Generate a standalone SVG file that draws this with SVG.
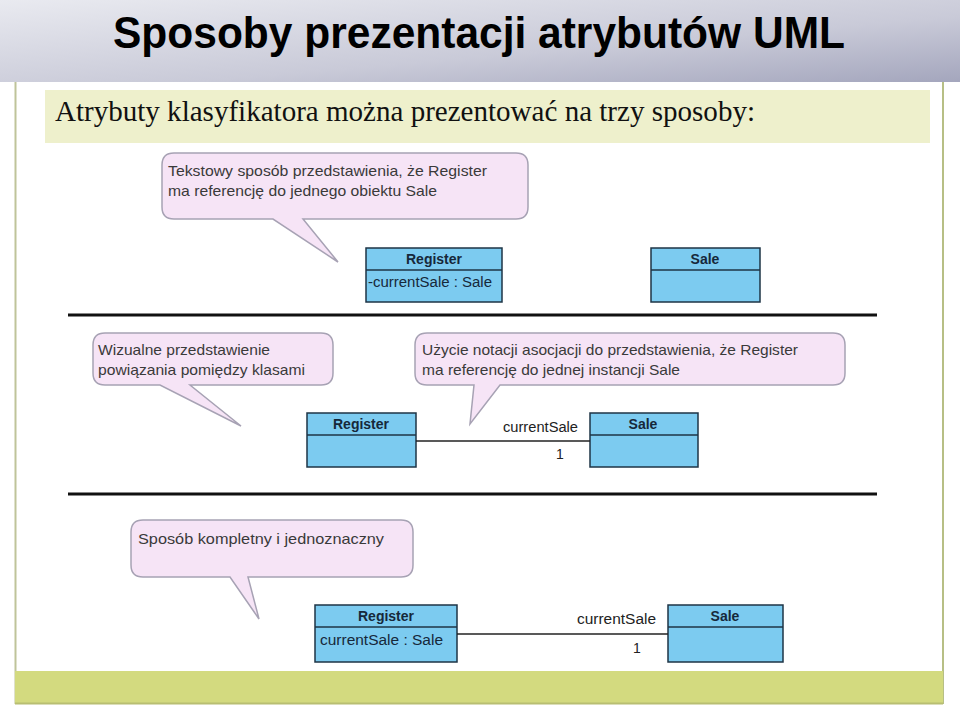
<svg xmlns="http://www.w3.org/2000/svg" width="960" height="707" viewBox="0 0 960 707">
<defs>
<linearGradient id="hdr" x1="0" y1="0" x2="1" y2="1">
<stop offset="0" stop-color="#e9eaf0"/>
<stop offset="0.6" stop-color="#c9cad8"/>
<stop offset="1" stop-color="#a4a6bd"/>
</linearGradient>
<style>
.bubble{fill:#f6e4f6;stroke:#a7a2b4;stroke-width:1.5}
.btxt{font-family:"Liberation Sans",Arial,sans-serif;font-size:15px;fill:#3a3a3a}
.cls{fill:#7ccbf0;stroke:#1e3446;stroke-width:1.5}
.ctitle{font-family:"Liberation Sans",Arial,sans-serif;font-size:14px;font-weight:bold;fill:#16283a;text-anchor:middle}
.ctxt{font-family:"Liberation Sans",Arial,sans-serif;font-size:14px;fill:#16283a}
.lbl{font-family:"Liberation Sans",Arial,sans-serif;font-size:14px;fill:#222}
.conn{stroke:#222;stroke-width:1.3;fill:none}
.div{stroke:#111;stroke-width:3}
</style>
</defs>
<rect x="0" y="0" width="960" height="707" fill="#ffffff"/>
<rect x="0" y="0" width="960" height="82" fill="url(#hdr)"/>
<text x="479" y="48" text-anchor="middle" font-family="Liberation Sans,Arial,sans-serif" font-size="45" font-weight="bold" fill="#000" textLength="732" lengthAdjust="spacingAndGlyphs">Sposoby prezentacji atrybutów UML</text>
<line x1="15.5" y1="82" x2="15.5" y2="704" stroke="#bfc49a" stroke-width="2"/>
<line x1="943" y1="82" x2="943" y2="704" stroke="#b7bf85" stroke-width="2"/>
<rect x="45" y="90" width="885" height="53" fill="#eef0cc"/>
<text x="55" y="121" font-family="Liberation Serif,'Times New Roman',serif" font-size="29" fill="#111" textLength="700" lengthAdjust="spacingAndGlyphs">Atrybuty klasyfikatora można prezentować na trzy sposoby:</text>
<rect x="15" y="671" width="928" height="33" fill="#d3da7f"/>
<line x1="15" y1="703.5" x2="943" y2="703.5" stroke="#b8be72" stroke-width="2"/>

<g id="dividers">
<line class="div" x1="68" y1="315" x2="877" y2="315"/>
<line class="div" x1="68" y1="494" x2="877" y2="494"/>
</g>

<g id="bubble1">
<path class="bubble" d="M174,153 H516 Q528,153 528,165 V207 Q528,219 516,219 H303 L338,262 L273,219 H174 Q162,219 162,207 V165 Q162,153 174,153 Z"/>
<text class="btxt" x="168" y="176" textLength="319" lengthAdjust="spacingAndGlyphs">Tekstowy sposób przedstawienia, że Register</text>
<text class="btxt" x="168" y="196" textLength="269" lengthAdjust="spacingAndGlyphs">ma referencję do jednego obiektu Sale</text>
</g>

<g id="register1">
<rect class="cls" x="366" y="248" width="136" height="54"/>
<line class="cls" x1="366" y1="270" x2="502" y2="270"/>
<text class="ctitle" x="434" y="264">Register</text>
<text class="ctxt" x="368" y="287" textLength="124" lengthAdjust="spacingAndGlyphs">-currentSale : Sale</text>
</g>
<g id="sale1">
<rect class="cls" x="651" y="248" width="109" height="54"/>
<line class="cls" x1="651" y1="270" x2="760" y2="270"/>
<text class="ctitle" x="705" y="264">Sale</text>
</g>

<g id="bubble2">
<path class="bubble" d="M105,333 H321 Q333,333 333,345 V373 Q333,385 321,385 H190 L241,426 L160,385 H105 Q93,385 93,373 V345 Q93,333 105,333 Z"/>
<text class="btxt" x="98" y="355" textLength="172" lengthAdjust="spacingAndGlyphs">Wizualne przedstawienie</text>
<text class="btxt" x="98" y="375" textLength="207" lengthAdjust="spacingAndGlyphs">powiązania pomiędzy klasami</text>
</g>

<g id="bubble3">
<path class="bubble" d="M427,333 H833 Q845,333 845,345 V373 Q845,385 833,385 H500 L470,424 L474,385 H427 Q415,385 415,373 V345 Q415,333 427,333 Z"/>
<text class="btxt" x="422" y="355" textLength="376" lengthAdjust="spacingAndGlyphs">Użycie notacji asocjacji do przedstawienia, że Register</text>
<text class="btxt" x="422" y="375" textLength="258" lengthAdjust="spacingAndGlyphs">ma referencję do jednej instancji Sale</text>
</g>

<g id="register2">
<rect class="cls" x="307" y="413" width="109" height="54"/>
<line class="cls" x1="307" y1="435" x2="416" y2="435"/>
<text class="ctitle" x="361" y="429">Register</text>
</g>
<g id="sale2">
<rect class="cls" x="590" y="413" width="108" height="54"/>
<line class="cls" x1="590" y1="435" x2="698" y2="435"/>
<text class="ctitle" x="643" y="429">Sale</text>
</g>

<g id="bubble4">
<path class="bubble" d="M143,520 H401 Q413,520 413,532 V565 Q413,577 401,577 H248 L259,619 L230,577 H143 Q131,577 131,565 V532 Q131,520 143,520 Z"/>
<text class="btxt" x="138" y="544" textLength="246" lengthAdjust="spacingAndGlyphs">Sposób kompletny i jednoznaczny</text>
</g>

<g id="register3">
<rect class="cls" x="315" y="605" width="142" height="57"/>
<line class="cls" x1="315" y1="627" x2="457" y2="627"/>
<text class="ctitle" x="386" y="621">Register</text>
<text class="ctxt" x="320" y="645" textLength="123" lengthAdjust="spacingAndGlyphs">currentSale : Sale</text>
</g>
<g id="sale3">
<rect class="cls" x="668" y="605" width="115" height="57"/>
<line class="cls" x1="668" y1="627" x2="783" y2="627"/>
<text class="ctitle" x="725" y="621">Sale</text>
</g>

<g id="connectors">
<line class="conn" x1="416" y1="441" x2="590" y2="441"/>
<text class="lbl" x="578" y="432" text-anchor="end" textLength="75" lengthAdjust="spacingAndGlyphs">currentSale</text>
<text class="lbl" x="560" y="459" text-anchor="middle">1</text>
<line class="conn" x1="457" y1="634" x2="668" y2="634"/>
<text class="lbl" x="656" y="624" text-anchor="end" textLength="79" lengthAdjust="spacingAndGlyphs">currentSale</text>
<text class="lbl" x="637" y="653" text-anchor="middle">1</text>
</g>
</svg>
